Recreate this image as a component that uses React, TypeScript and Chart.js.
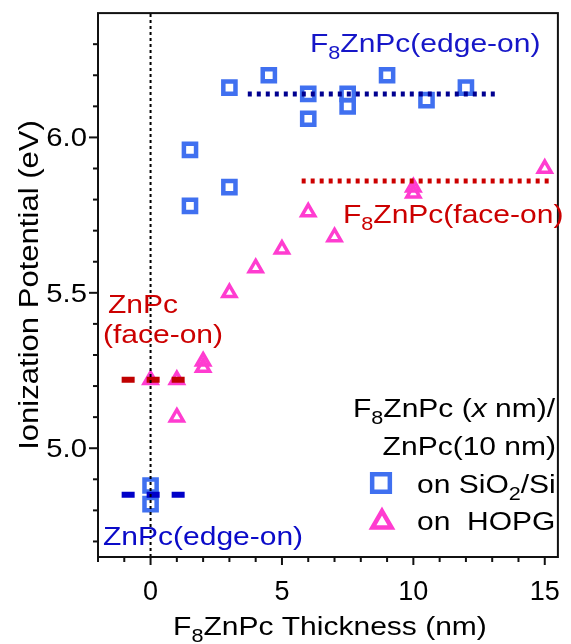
import React, { useEffect, useRef } from "react";
import { Chart, registerables } from "chart.js";
import { drawPoint } from "chart.js/helpers";

Chart.register(...registerables);

// ---- Data ----
const squareX = [0, 0, 1.5, 1.5, 3, 3, 4.5, 6, 6, 7.5, 7.5, 9, 10.5, 12];
const squareY = [4.88, 4.82, 5.96, 5.78, 5.84, 6.16, 6.2, 6.14, 6.06, 6.14, 6.1, 6.2, 6.12, 6.16];
const triangleX = [0, 1, 1, 2, 2, 3, 4, 5, 6, 7, 10, 10, 15];
const triangleY = [5.22, 5.22, 5.1, 5.28, 5.26, 5.5, 5.58, 5.64, 5.76, 5.68, 5.84, 5.82, 5.9];

// reference levels: [xStart, xEnd], value
const f8EdgeOnX = [3.7, 13.2];
const f8EdgeOnY = 6.14;
const f8FaceOnX = [5.75, 15.3];
const f8FaceOnY = 5.86;
const znFaceOnX = [-1.1, 1.3];
const znFaceOnY = 5.22;
const znEdgeOnX = [-1.1, 1.3];
const znEdgeOnY = 4.85;

// axes
const xMin = -2;
const xMax = 15.5;
const yMin = 4.65;
const yMax = 6.4;
const xTicks = [-2, -1, 0, 1, 2, 3, 4, 5, 6, 7, 8, 9, 10, 11, 12, 13, 14, 15];
const xMajorTicks = [0, 5, 10, 15];
const xTickLabels = ["0", "5", "10", "15"];
const yTicks = [4.7, 4.8, 4.9, 5.0, 5.1, 5.2, 5.3, 5.4, 5.5, 5.6, 5.7, 5.8, 5.9, 6.0, 6.1, 6.2, 6.3];
const yMajorTicks = [5.0, 5.5, 6.0];
const yTickLabels = ["5.0", "5.5", "6.0"];

const FAM = '"Liberation Sans", Arial, sans-serif';
const SQ_COLOR = "#4070f0";
const TRI_COLOR = "#ff3cd0";

type Part = { t: string; s?: boolean; i?: boolean };

function richText(
  ctx: CanvasRenderingContext2D,
  parts: Part[],
  x: number,
  y: number,
  o: { align?: string; size?: number; color?: string; sx?: number; rot?: boolean } = {}
) {
  const size = o.size ?? 25;
  const sx = o.sx ?? 1.2;
  const align = o.align ?? "left";
  const fontOf = (p: Part) =>
    `${p.i ? "italic " : ""}${p.s ? Math.round(size * 0.7) : size}px ${FAM}`;
  let w = 0;
  const ws = parts.map((p) => {
    ctx.font = fontOf(p);
    const m = ctx.measureText(p.t).width;
    w += m;
    return m;
  });
  ctx.save();
  ctx.translate(x, y);
  if (o.rot) ctx.rotate(-Math.PI / 2);
  ctx.scale(sx, 1);
  let cx = align === "left" ? 0 : align === "right" ? -w : -w / 2;
  ctx.fillStyle = o.color ?? "#000";
  ctx.textBaseline = "alphabetic";
  ctx.textAlign = "left";
  parts.forEach((p, i) => {
    ctx.font = fontOf(p);
    ctx.fillText(p.t, cx, p.s ? size * 0.27 : 0);
    cx += ws[i];
  });
  ctx.restore();
}

const framePlugin = {
  id: "framePlugin",
  afterDraw(chart: any) {
    const ctx: CanvasRenderingContext2D = chart.ctx;
    const { left, right, top, bottom } = chart.chartArea;
    const xs = chart.scales.x;
    const ys = chart.scales.y;
    ctx.save();
    // frame
    ctx.strokeStyle = "#111";
    ctx.lineWidth = 2;
    ctx.strokeRect(left, top, right - left, bottom - top);
    // x tick marks
    xs.ticks.forEach((t: any) => {
      const v = t.value;
      const major = xMajorTicks.some((m) => Math.abs(m - v) < 1e-6);
      const px = xs.getPixelForValue(v);
      ctx.strokeStyle = "#111";
      ctx.lineWidth = 2;
      ctx.beginPath();
      ctx.moveTo(px, bottom);
      ctx.lineTo(px, bottom + (major ? 8 : 5));
      ctx.stroke();
    });
    // y tick marks
    ys.ticks.forEach((t: any) => {
      const v = t.value;
      const major = yMajorTicks.some((m) => Math.abs(m - v) < 1e-6);
      const py = ys.getPixelForValue(v);
      ctx.strokeStyle = "#111";
      ctx.lineWidth = 2;
      ctx.beginPath();
      ctx.moveTo(left, py);
      ctx.lineTo(left - (major ? 9 : 5), py);
      ctx.stroke();
    });
    // y tick labels
    yMajorTicks.forEach((v, i) => {
      const py = ys.getPixelForValue(v);
      richText(ctx, [{ t: yTickLabels[i] }], left - 11, py + 9, { align: "right", size: 25, sx: 1.17 });
    });
    // axis titles
    richText(ctx, [{ t: "F" }, { t: "8", s: true }, { t: "ZnPc Thickness (nm)" }], (left + right) / 2 + 2, 635, {
      align: "center",
      size: 25,
      sx: 1.2,
    });
    richText(ctx, [{ t: "Ionization Potential (eV)" }], 38, 285, { align: "center", size: 27, sx: 1.15, rot: true });

    // annotations
    const blue = "#1616c8";
    const red = "#cc0000";
    richText(ctx, [{ t: "F" }, { t: "8", s: true }, { t: "ZnPc(edge-on)" }], 310, 52, { color: blue });
    richText(ctx, [{ t: "F" }, { t: "8", s: true }, { t: "ZnPc(face-on)" }], 343, 223, { color: red });
    richText(ctx, [{ t: "ZnPc" }], 108, 313, { color: red });
    richText(ctx, [{ t: "(face-on)" }], 103, 343, { color: red });
    richText(ctx, [{ t: "ZnPc(edge-on)" }], 103, 545, { color: "#0a0ac8" });

    // legend
    richText(ctx, [{ t: "F" }, { t: "8", s: true }, { t: "ZnPc (" }, { t: "x", i: true }, { t: " nm)/" }], 555, 417, {
      align: "right",
    });
    richText(ctx, [{ t: "ZnPc(10 nm)" }], 556, 455, { align: "right" });
    richText(ctx, [{ t: "on SiO" }, { t: "2", s: true }, { t: "/Si" }], 417, 493);
    richText(ctx, [{ t: "on  HOPG" }], 417, 530);
    ctx.fillStyle = "rgba(0,0,0,0)";
    ctx.strokeStyle = SQ_COLOR;
    ctx.lineWidth = 4.5;
    drawPoint(ctx, { pointStyle: "rect", radius: 12.5, rotation: 0, borderWidth: 4.5 } as any, 381, 483);
    ctx.strokeStyle = TRI_COLOR;
    ctx.lineWidth = 4.5;
    drawPoint(ctx, { pointStyle: "triangle", radius: 11, rotation: 0, borderWidth: 4.5 } as any, 382, 522);
    ctx.restore();
  },
};

function levelLine(xr: number[], y: number, color: string, width: number, dash: number[]) {
  return {
    data: [
      { x: xr[0], y },
      { x: xr[1], y },
    ],
    showLine: true,
    borderColor: color,
    borderWidth: width,
    borderDash: dash,
    borderCapStyle: "butt",
    pointRadius: 0,
    pointHoverRadius: 0,
    order: 0,
  };
}

export default function App() {
  const ref = useRef<HTMLCanvasElement>(null);
  useEffect(() => {
    if (!ref.current) return;
    const chart = new Chart(ref.current, {
      type: "scatter",
      data: {
        datasets: [
          {
            data: [
              { x: 0, y: yMin },
              { x: 0, y: yMax },
            ],
            showLine: true,
            borderColor: "#000",
            borderWidth: 2,
            borderDash: [3, 3],
            pointRadius: 0,
            pointHoverRadius: 0,
            order: 0,
          },
          levelLine(f8EdgeOnX, f8EdgeOnY, "#000090", 5, [4, 5]),
          levelLine(f8FaceOnX, f8FaceOnY, "#cc0000", 5, [4, 5]),
          levelLine(znFaceOnX, znFaceOnY, "#c00000", 6, [13, 12]),
          levelLine(znEdgeOnX, znEdgeOnY, "#0000c8", 6, [13, 12]),
          {
            label: "on SiO2/Si",
            data: squareX.map((x, i) => ({ x, y: squareY[i] })),
            pointStyle: "rect",
            pointRadius: 8.6,
            pointHoverRadius: 8.6,
            pointBorderWidth: 4.5,
            pointBorderColor: SQ_COLOR,
            pointBackgroundColor: "rgba(0,0,0,0)",
            borderColor: SQ_COLOR,
            backgroundColor: "rgba(0,0,0,0)",
            showLine: false,
            order: 2,
          },
          {
            label: "on HOPG",
            data: triangleX.map((x, i) => ({ x, y: triangleY[i] })),
            pointStyle: "triangle",
            pointRadius: 7.5,
            pointHoverRadius: 7.5,
            pointBorderWidth: 3.5,
            pointBorderColor: TRI_COLOR,
            pointBackgroundColor: "rgba(0,0,0,0)",
            borderColor: TRI_COLOR,
            backgroundColor: "rgba(0,0,0,0)",
            showLine: false,
            order: 2,
          },
        ] as any,
      },
      options: {
        animation: false,
        responsive: false,
        maintainAspectRatio: false,
        devicePixelRatio: 1,
        layout: { padding: { left: 0, top: 11, right: 6, bottom: 0 } },
        plugins: { legend: { display: false }, tooltip: { enabled: false } },
        events: [],
        scales: {
          x: {
            type: "linear",
            min: xMin,
            max: xMax,
            ticks: {
              display: true,
              autoSkip: false,
              maxRotation: 0,
              minRotation: 0,
              padding: 19,
              color: "#000",
              font: { family: FAM, size: 27 },
              callback: (v: any) => {
                const idx = xMajorTicks.findIndex((m) => Math.abs(m - Number(v)) < 1e-6);
                return idx >= 0 ? xTickLabels[idx] : "";
              },
            },
            grid: { display: false, drawTicks: false },
            border: { display: false },
            afterBuildTicks: (s: any) => {
              s.ticks = xTicks.map((v) => ({ value: v }));
            },
            afterFit: (s: any) => {
              s.height = 87;
              s.paddingLeft = 0;
              s.paddingRight = 0;
            },
          },
          y: {
            type: "linear",
            min: yMin,
            max: yMax,
            ticks: { display: false },
            grid: { display: false },
            border: { display: false },
            afterBuildTicks: (s: any) => {
              s.ticks = yTicks.map((v) => ({ value: v }));
            },
            afterFit: (s: any) => {
              s.width = 98;
              s.paddingTop = 0;
              s.paddingBottom = 0;
            },
          },
        },
      } as any,
      plugins: [framePlugin],
    });
    return () => chart.destroy();
  }, []);
  return (
    <div style={{ position: "fixed", left: 0, top: 0, width: 571, height: 644, background: "#fff" }}>
      <canvas ref={ref} width={571} height={644} style={{ display: "block" }} />
    </div>
  );
}
